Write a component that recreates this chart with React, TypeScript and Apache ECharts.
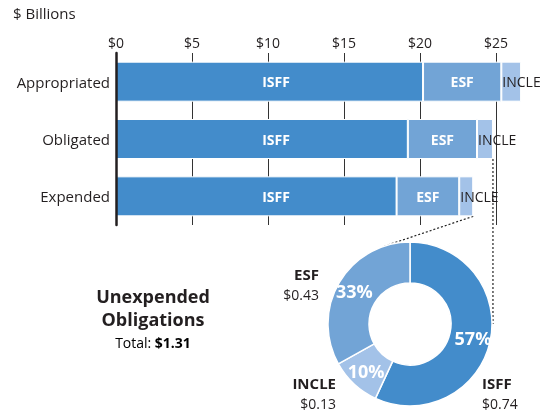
import React, { useEffect, useRef } from 'react';
import * as echarts from 'echarts';

const categories = ['Appropriated', 'Obligated', 'Expended'];
const fundNames = ['ISFF', 'ESF', 'INCLE'];
const isffValues = [20.2, 19.2, 18.46];
const esfValues = [5.15, 4.55, 4.12];
const incleValues = [1.3, 1.05, 0.92];
const xTickValues = [0, 5, 10, 15, 20, 25];
const unexpendedNames = ['ISFF', 'INCLE', 'ESF'];
const unexpendedValues = [0.74, 0.13, 0.43];
const unexpendedTotal = 1.31;

const FONT = '"Open Sans", sans-serif';
const TEXT = '#231f20';
const colors: Record<string, string> = { ISFF: '#438ccb', ESF: '#72a4d6', INCLE: '#a3c2e8' };

export default function App() {
  const ref = useRef<HTMLDivElement>(null);
  useEffect(() => {
    if (!ref.current) return;
    const chart = echarts.init(ref.current, undefined, { renderer: 'svg' });
    const seriesValues = [isffValues, esfValues, incleValues];
    const barWidth = 40;
    const pieCenter = [410, 324];
    const pieR = [41, 82];

    const barSeries = fundNames.map((name, i) => {
      let label: any;
      if (name === 'ISFF') {
        label = { show: true, position: [160, '50%'], align: 'center', verticalAlign: 'middle', color: '#fff', fontWeight: 'bold', fontSize: 14, fontFamily: FONT, formatter: name };
      } else if (name === 'ESF') {
        label = { show: true, position: 'inside', color: '#fff', fontWeight: 'bold', fontSize: 14, fontFamily: FONT, formatter: name };
      } else {
        label = { show: true, position: 'insideLeft', distance: 1, color: TEXT, fontSize: 14, fontFamily: FONT, formatter: name };
      }
      return {
        type: 'bar',
        name,
        stack: 'total',
        barWidth,
        data: seriesValues[i],
        itemStyle: { color: colors[name], borderColor: '#fff', borderWidth: 1 },
        label,
        silent: true,
      };
    });

    const fmtMoney = (v: number) => '$' + v.toFixed(2);

    const option: any = {
      animation: false,
      grid: { left: 116, top: 53, width: 27 * 15.2, height: 172 },
      xAxis: {
        type: 'value',
        min: 0,
        max: 27,
        interval: 5,
        position: 'top',
        axisLine: { show: false },
        axisTick: { show: false },
        splitLine: { show: true, showMaxLine: false, lineStyle: { color: '#333', width: 1 } },
        axisLabel: {
          color: TEXT,
          fontSize: 14,
          fontFamily: FONT,
          margin: 4,
          showMaxLabel: false,
          formatter: (v: number) => (xTickValues.includes(v) ? '$' + v : ''),
        },
      },
      yAxis: {
        type: 'category',
        data: categories,
        inverse: true,
        axisLine: { show: true, lineStyle: { color: TEXT, width: 2.5 } },
        axisTick: { show: false },
        axisLabel: { color: TEXT, fontSize: 15, fontFamily: FONT, margin: 6 },
        z: 5,
      },
      series: [
        ...barSeries,
        {
          type: 'pie',
          center: pieCenter,
          radius: pieR,
          startAngle: 90,
          clockwise: true,
          percentPrecision: 0,
          silent: true,
          labelLine: { show: false },
          label: { show: true, position: 'inside', formatter: '{d}%', color: '#fff', fontWeight: 'bold', fontSize: 18, fontFamily: FONT },
          itemStyle: { borderColor: '#fff', borderWidth: 1.5 },
          data: unexpendedNames.map((n, i) => ({ name: n, value: unexpendedValues[i], itemStyle: { color: colors[n] } })),
        },
      ],
    };
    chart.setOption(option);

    // connector lines computed from axes
    const oblIdx = categories.indexOf('Obligated');
    const expIdx = categories.indexOf('Expended');
    const oblEnd = isffValues[oblIdx] + esfValues[oblIdx] + incleValues[oblIdx];
    const expEnd = isffValues[expIdx] + esfValues[expIdx] + incleValues[expIdx];
    const pObl = chart.convertToPixel({ gridIndex: 0 } as any, [oblEnd, oblIdx]) as number[];
    const pExp = chart.convertToPixel({ gridIndex: 0 } as any, [expEnd, expIdx]) as number[];
    const [cx, cy] = pieCenter;
    const R = pieR[1];
    const dx = pObl[0] - cx;
    const vEndY = Math.abs(dx) < R ? cy - Math.sqrt(R * R - dx * dx) : cy;
    const ang = (108 * Math.PI) / 180;
    const diagEnd = [cx + R * Math.cos(ang), cy - R * Math.sin(ang)];
    const dash = { stroke: '#222', lineWidth: 1.2, lineDash: [2, 2] };

    const valByName = (n: string) => unexpendedValues[unexpendedNames.indexOf(n)];
    const bold = { fontFamily: FONT, fontWeight: 'bold', fontSize: 15, fill: TEXT };
    const reg = { fontFamily: FONT, fontSize: 14, fill: TEXT };

    chart.setOption({
      graphic: [
        { type: 'line', z: 1, shape: { x1: pObl[0], y1: pObl[1] + barWidth / 2, x2: pObl[0], y2: vEndY }, style: dash },
        { type: 'line', z: 1, shape: { x1: pExp[0], y1: pExp[1] + barWidth / 2, x2: diagEnd[0], y2: diagEnd[1] }, style: dash },
        { type: 'text', left: 13, top: 5, style: { text: '$ Billions', ...reg, fontSize: 15 } },
        { type: 'text', x: 153, y: 296, style: { text: 'Unexpended', ...bold, fontSize: 18, align: 'center', verticalAlign: 'middle' } },
        { type: 'text', x: 153, y: 319, style: { text: 'Obligations', ...bold, fontSize: 18, align: 'center', verticalAlign: 'middle' } },
        {
          type: 'text', x: 153, y: 342,
          style: {
            text: '{r|Total: }{b|' + fmtMoney(unexpendedTotal) + '}', align: 'center', verticalAlign: 'middle',
            rich: { r: { fontFamily: FONT, color: TEXT, fontSize: 14 }, b: { fontFamily: FONT, fontWeight: 'bold', fontSize: 14, color: TEXT } },
          },
        },
        { type: 'text', x: 319, y: 274, style: { text: 'ESF', ...bold, align: 'right', verticalAlign: 'middle' } },
        { type: 'text', x: 319, y: 294, style: { text: fmtMoney(valByName('ESF')), ...reg, align: 'right', verticalAlign: 'middle' } },
        { type: 'text', x: 336, y: 383, style: { text: 'INCLE', ...bold, align: 'right', verticalAlign: 'middle' } },
        { type: 'text', x: 336, y: 403, style: { text: fmtMoney(valByName('INCLE')), ...reg, align: 'right', verticalAlign: 'middle' } },
        { type: 'text', x: 482, y: 383, style: { text: 'ISFF', ...bold, align: 'left', verticalAlign: 'middle' } },
        { type: 'text', x: 482, y: 403, style: { text: fmtMoney(valByName('ISFF')), ...reg, align: 'left', verticalAlign: 'middle' } },
      ],
    });

    return () => chart.dispose();
  }, []);
  return <div ref={ref} style={{ position: 'fixed', left: 0, top: 0, width: 547, height: 412 }} />;
}
